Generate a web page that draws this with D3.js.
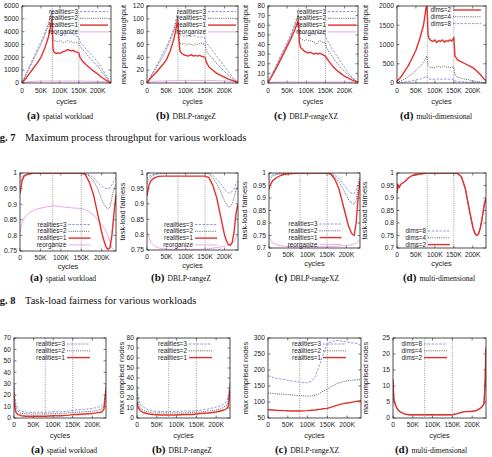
<!DOCTYPE html>
<html>
<head>
<meta charset="utf-8">
<script src="https://cdn.jsdelivr.net/npm/d3@7"></script>
<style>
  body { margin: 0; background: #fff; }
  svg { display: block; }
  .tick-label { font-family: "Liberation Sans", Arial, sans-serif; font-size: 6.7px; fill: #222; }
  .axis-title { font-family: "Liberation Sans", Arial, sans-serif; font-size: 7.4px; fill: #222; }
  .legend-text { font-family: "Liberation Sans", Arial, sans-serif; font-size: 6.3px; fill: #222; }
  .sub-letter { font-family: "Liberation Serif", "Times New Roman", serif; font-size: 11px; font-weight: bold; fill: #111; }
  .sub-text { font-family: "Liberation Serif", "Times New Roman", serif; font-size: 7.6px; fill: #111; }
  .fig-caption { font-family: "Liberation Serif", "Times New Roman", serif; font-size: 10.5px; fill: #111; }
</style>
</head>
<body>
<div id="chart"></div>
<script>
// ---- data (cycles in thousands) ----
const cyclesTp = [0, 10, 20, 30, 40, 50, 60, 70, 79, 82, 85, 90, 95, 100, 105, 110, 115, 120, 125, 130, 135, 140, 145, 150, 153, 160, 170, 180, 190, 200, 210, 220, 230, 236];

// Fig 7 (a) spatial workload
const tpSpatialR3 = [0, 650, 1300, 1950, 2600, 3200, 3900, 4700, 5650, 4000, 3900, 3800, 3700, 3850, 3900, 3750, 3700, 3900, 3800, 3900, 3850, 3700, 3650, 3600, 3200, 3000, 2600, 2300, 2000, 1600, 1200, 700, 250, 0];
const tpSpatialR2 = [0, 600, 1200, 1800, 2400, 3000, 3700, 4500, 5450, 3400, 3300, 3250, 3200, 3300, 3250, 3150, 3200, 3300, 3200, 3250, 3100, 3200, 3150, 3100, 2900, 2600, 2300, 1900, 1600, 1300, 900, 500, 150, 0];
const tpSpatialR1 = [0, 350, 750, 1150, 1550, 2000, 2700, 3600, 4950, 2600, 2400, 2300, 2350, 2300, 2400, 2450, 2500, 2600, 2550, 2500, 2550, 2450, 2400, 2350, 2000, 1700, 1400, 1150, 900, 700, 450, 250, 80, 0];
const tpSpatialReorg = [0, 60, 110, 130, 140, 150, 150, 160, 160, 150, 150, 150, 160, 150, 150, 150, 160, 150, 150, 150, 150, 150, 150, 150, 150, 150, 140, 140, 130, 120, 110, 90, 40, 0];

// Fig 7 (b) DBLP-rangeZ
const tpRangeZR3 = [0, 11, 22, 33, 45, 57, 70, 86, 110, 80, 75, 74, 73, 74, 73, 72, 73, 74, 73, 72, 71, 72, 71, 70, 62, 58, 50, 42, 34, 26, 18, 10, 4, 1];
const tpRangeZR2 = [0, 10, 20, 30, 40, 52, 66, 82, 104, 75, 62, 60, 62, 59, 60, 61, 60, 58, 61, 60, 61, 62, 61, 60, 50, 44, 38, 30, 24, 18, 12, 7, 3, 1];
const tpRangeZR1 = [0, 8, 14, 21, 28, 36, 50, 70, 97, 70, 50, 46, 44, 43, 42, 43, 44, 42, 43, 42, 43, 42, 41, 40, 33, 25, 20, 15, 12, 9, 6, 4, 2, 1];
const tpRangeZReorg = [0, 2, 3, 3, 3, 3.5, 3.5, 3.5, 4, 4, 4, 4, 4, 4, 4, 4, 4, 4, 4, 4, 4, 4, 4, 4, 4, 4, 4, 3.5, 3.5, 3, 3, 2.5, 2, 1];

// Fig 7 (c) DBLP-rangeXZ
const tpRangeXZR3 = [0, 8, 17, 26, 34, 42, 51, 61, 72, 54, 52, 52, 51, 52, 51, 52, 51, 50, 51, 52, 51, 52, 51, 50, 45, 41, 34, 28, 22, 16, 10, 6, 2, 1];
const tpRangeXZR2 = [0, 8, 16, 24, 32, 40, 49, 59, 70, 48, 46, 45, 44, 45, 44, 44, 43, 43, 40, 42, 44, 43, 42, 42, 36, 32, 26, 21, 16, 12, 8, 5, 2, 1];
const tpRangeXZR1 = [0, 7, 14, 22, 30, 38, 46, 55, 65, 42, 37, 35, 33, 32, 31, 32, 31, 30, 31, 30, 31, 30, 29, 28, 26, 22, 17, 13, 10, 7, 5, 3, 1.5, 1];
const tpRangeXZReorg = [0, 0.5, 1, 1, 1, 1, 1, 1, 1, 1, 1, 1, 1, 1, 1, 1, 1, 1, 1, 1, 1, 1, 1, 1, 1, 1, 1, 1, 1, 1, 1, 1, 0.5, 0.5];

// Fig 7 (d) multi-dimensional
const tpMultiD2 = [50, 150, 300, 450, 650, 850, 1150, 1500, 2100, 1250, 1150, 1100, 1080, 1120, 1050, 1100, 1080, 1120, 1060, 1100, 1080, 1120, 1090, 1180, 700, 600, 550, 500, 450, 400, 320, 220, 100, 50];
const tpMultiD4 = [10, 50, 100, 170, 240, 320, 420, 540, 700, 450, 420, 400, 410, 390, 420, 430, 410, 420, 440, 410, 420, 400, 410, 420, 200, 150, 120, 100, 80, 60, 40, 25, 10, 5];
const tpMultiD8 = [0, 10, 25, 40, 60, 80, 100, 130, 170, 110, 100, 100, 95, 100, 105, 100, 95, 100, 100, 105, 100, 95, 100, 100, 50, 40, 30, 25, 20, 15, 10, 6, 3, 2];

// Fig 8 task-load fairness
const cyclesFair = [0, 2, 5, 10, 20, 30, 40, 60, 80, 100, 120, 140, 150, 160, 170, 180, 190, 200, 205, 210, 215, 220, 225, 230, 235];

const fairSpatialR3 = [0.985, 0.988, 0.99, 0.993, 0.997, 0.999, 1, 1, 1, 1, 1, 1, 1, 0.999, 0.995, 0.985, 0.97, 0.958, 0.953, 0.95, 0.95, 0.952, 0.962, 0.975, 0.985];
const fairSpatialR2 = [0.97, 0.975, 0.985, 0.99, 0.995, 0.998, 1, 1, 1, 1, 1, 1, 1, 0.998, 0.99, 0.975, 0.95, 0.915, 0.9, 0.89, 0.885, 0.89, 0.92, 0.95, 0.965];
const fairSpatialR1 = [0.935, 0.95, 0.975, 0.99, 0.997, 0.999, 1, 1, 1, 1, 1, 1, 1, 0.995, 0.97, 0.93, 0.87, 0.81, 0.785, 0.765, 0.755, 0.76, 0.8, 0.87, 0.93];
const fairSpatialReorg = [0.81, 0.82, 0.84, 0.855, 0.87, 0.878, 0.884, 0.89, 0.895, 0.892, 0.889, 0.887, 0.886, 0.883, 0.875, 0.865, 0.85, 0.835, 0.825, 0.815, 0.8, 0.78, 0.76, 0.75, 0.745];

const fairRangeZR3 = [0.98, 0.985, 0.99, 0.993, 0.997, 0.999, 1, 1, 1, 1, 1, 1, 1, 0.999, 0.993, 0.98, 0.965, 0.948, 0.94, 0.935, 0.935, 0.94, 0.95, 0.965, 0.975];
const fairRangeZR2 = [0.965, 0.972, 0.98, 0.988, 0.994, 0.997, 0.999, 1, 1, 1, 1, 1, 1, 0.997, 0.985, 0.965, 0.94, 0.91, 0.898, 0.89, 0.89, 0.9, 0.92, 0.945, 0.96];
const fairRangeZR1 = [0.925, 0.94, 0.96, 0.975, 0.985, 0.989, 0.99, 0.99, 0.99, 0.99, 0.99, 0.99, 0.99, 0.985, 0.96, 0.92, 0.86, 0.8, 0.78, 0.768, 0.765, 0.775, 0.81, 0.87, 0.9];
const fairRangeZReorg = [0.81, 0.8, 0.79, 0.775, 0.762, 0.757, 0.754, 0.752, 0.752, 0.752, 0.752, 0.752, 0.753, 0.754, 0.756, 0.758, 0.76, 0.762, 0.764, 0.766, 0.768, 0.772, 0.778, 0.79, 0.8];

const fairRangeXZR3 = [0.98, 0.985, 0.99, 0.993, 0.997, 0.999, 1, 1, 1, 1, 1, 1, 1, 0.999, 0.993, 0.98, 0.96, 0.94, 0.93, 0.922, 0.918, 0.918, 0.93, 0.96, 0.99];
const fairRangeXZR2 = [0.965, 0.972, 0.98, 0.988, 0.994, 0.997, 0.999, 1, 1, 1, 1, 1, 1, 0.997, 0.985, 0.965, 0.94, 0.91, 0.895, 0.885, 0.878, 0.875, 0.89, 0.94, 0.98];
const fairRangeXZR1 = [0.935, 0.945, 0.958, 0.97, 0.982, 0.99, 0.995, 0.998, 1, 1, 1, 1, 1, 0.995, 0.975, 0.94, 0.88, 0.82, 0.79, 0.77, 0.755, 0.75, 0.8, 0.9, 0.97];
const fairRangeXZReorg = [0.745, 0.738, 0.73, 0.72, 0.713, 0.709, 0.707, 0.705, 0.705, 0.705, 0.705, 0.705, 0.705, 0.706, 0.707, 0.708, 0.709, 0.71, 0.711, 0.712, 0.714, 0.716, 0.72, 0.726, 0.733];

const fairMultiD8 = [0.92, 0.95, 0.94, 0.955, 0.965, 0.98, 0.99, 0.996, 1, 1, 1, 1, 1, 0.998, 0.985, 0.94, 0.86, 0.785, 0.76, 0.75, 0.755, 0.78, 0.82, 0.87, 0.9];
const fairMultiD4 = [0.92, 0.95, 0.94, 0.955, 0.965, 0.98, 0.99, 0.996, 1, 1, 1, 1, 1, 0.998, 0.985, 0.94, 0.86, 0.785, 0.76, 0.75, 0.755, 0.78, 0.82, 0.87, 0.9];
const fairMultiD2 = [0.92, 0.955, 0.94, 0.955, 0.965, 0.98, 0.99, 0.996, 1, 1, 1, 1, 1, 0.998, 0.985, 0.94, 0.86, 0.785, 0.76, 0.75, 0.755, 0.78, 0.82, 0.87, 0.9];

// Max comprised nodes
const cyclesNodes = [0, 2, 5, 10, 15, 20, 30, 40, 60, 80, 100, 120, 140, 150, 160, 180, 200, 210, 220, 225, 230, 233, 235];

const nodesSpatialR3 = [30, 18, 12, 8, 6.5, 6, 5, 5, 5, 5, 5.5, 5.5, 6, 6.5, 7, 7.5, 8.5, 9, 10, 11, 13, 22, 30];
const nodesSpatialR2 = [28, 14, 8, 6, 4.5, 4, 3.5, 3.5, 3.5, 3.5, 4, 4, 4.5, 5, 5, 5.5, 6, 6.5, 7.5, 8, 11, 20, 28];
const nodesSpatialR1 = [22, 9, 5, 3, 2.5, 2, 1.5, 1.5, 1.5, 1.5, 2, 2, 2.5, 3, 3, 3.5, 4, 4.5, 5, 5.5, 8, 18, 25];

const nodesRangeZR3 = [32, 24, 17, 13, 11, 10, 8, 7, 6.5, 6.5, 6.5, 7, 7, 7.5, 8, 9, 11, 12, 14, 16, 20, 30, 37];
const nodesRangeZR2 = [25, 18, 13, 10, 8, 7, 6, 5, 5, 5, 5, 5, 5.5, 6, 6, 7, 8, 9, 11, 12, 15, 25, 33];
const nodesRangeZR1 = [16, 12, 9, 7, 5.5, 5, 4, 3.5, 3, 3, 3, 3.5, 3.5, 4, 4.5, 5, 6, 7, 8, 9, 11, 20, 30];

const cyclesNodesXZ = [0, 10, 20, 40, 60, 80, 100, 110, 120, 130, 140, 150, 160, 170, 180, 190, 200, 210, 220, 230, 235];
const nodesRangeXZR3 = [182, 178, 174, 170, 166, 162, 160, 165, 180, 215, 250, 282, 288, 292, 292, 289, 287, 285, 284, 280, 276];
const nodesRangeXZR2 = [128, 127, 126, 124, 122, 120, 118, 119, 121, 127, 134, 140, 148, 155, 160, 164, 166, 168, 169, 170, 170];
const nodesRangeXZR1 = [76, 75, 74, 73, 72, 72, 73, 74, 75, 77, 79, 80, 84, 88, 92, 95, 97, 99, 101, 103, 104];

const nodesMultiD8 = [12, 6, 4.5, 3, 2.2, 1.8, 1.2, 1, 1, 1, 1, 1, 1, 1, 1.3, 2, 2, 2.3, 3, 3.5, 4.5, 12, 22];
const nodesMultiD4 = [12, 6, 4.5, 3, 2.2, 1.8, 1.2, 1, 1, 1, 1, 1, 1, 1, 1.3, 2, 2, 2.3, 3, 3.5, 4.5, 12, 22];
const nodesMultiD2 = [12, 6, 4.5, 3, 2.2, 1.8, 1.2, 1, 1, 1, 1, 1, 1, 1, 1.3, 2, 2.1, 2.3, 3, 3.5, 4.5, 12, 22];

const xTickValues = [0, 50, 100, 150, 200];
const markerCycles = [80, 150];

// ---- styles ----
const STYLE = {
  r3:    { stroke: '#7a7ad8', width: 0.8, dash: '2.4,1.4' },
  r2:    { stroke: '#333333', width: 0.8, dash: '1,1.2' },
  r1:    { stroke: '#e2302b', width: 1.4, dash: null },
  reorg: { stroke: '#e6a0e6', width: 0.9, dash: null }
};

const W = 492, H = 457;
const svg = d3.select('#chart').append('svg').attr('width', W).attr('height', H);

const fmtInt = d => String(d);
const fmtFair = d => d === 1 ? '1' : String(+d.toFixed(2));

const panels = [
  // ---- row 1: max process throughput ----
  { id: 'tpa', x0: 22, x1: 111, y0: 6, y1: 83, domain: [0, 6000], ticks: d3.range(0, 6001, 1000), fmt: fmtInt,
    cyc: cyclesTp, ylabel: null, letter: '(a)', caption: 'spatial workload', capX: 60, row: 1,
    legend: { right: 110, top: 11.5 },
    series: [
      { vals: tpSpatialReorg, style: 'reorg', label: 'reorganize', order: 3 },
      { vals: tpSpatialR3, style: 'r3', label: 'realities=3', order: 0 },
      { vals: tpSpatialR2, style: 'r2', label: 'realities=2', order: 1 },
      { vals: tpSpatialR1, style: 'r1', label: 'realities=1', order: 2 }
    ] },
  { id: 'tpb', x0: 147, x1: 238, y0: 6, y1: 83, domain: [0, 120], ticks: d3.range(0, 121, 20), fmt: fmtInt,
    cyc: cyclesTp, ylabel: 'max process throughput', ylabelX: 123, letter: '(b)', caption: 'DBLP-rangeZ', capX: 186, row: 1,
    legend: { right: 238, top: 11.5 },
    series: [
      { vals: tpRangeZReorg, style: 'reorg', label: 'reorganize', order: 3 },
      { vals: tpRangeZR3, style: 'r3', label: 'realities=3', order: 0 },
      { vals: tpRangeZR2, style: 'r2', label: 'realities=2', order: 1 },
      { vals: tpRangeZR1, style: 'r1', label: 'realities=1', order: 2 }
    ] },
  { id: 'tpc', x0: 268, x1: 358, y0: 6, y1: 83, domain: [0, 80], ticks: d3.range(0, 81, 10), fmt: fmtInt,
    cyc: cyclesTp, ylabel: 'max process throughput', ylabelX: 245, letter: '(c)', caption: 'DBLP-rangeXZ', capX: 306, row: 1,
    legend: { right: 358, top: 11.5 },
    series: [
      { vals: tpRangeXZReorg, style: 'reorg', label: 'reorganize', order: 3 },
      { vals: tpRangeXZR3, style: 'r3', label: 'realities=3', order: 0 },
      { vals: tpRangeXZR2, style: 'r2', label: 'realities=2', order: 1 },
      { vals: tpRangeXZR1, style: 'r1', label: 'realities=1', order: 2 }
    ] },
  { id: 'tpd', x0: 397, x1: 486, y0: 6, y1: 83, domain: [0, 2000], ticks: d3.range(0, 2001, 500), fmt: fmtInt,
    cyc: cyclesTp, ylabel: 'max process throughput', ylabelX: 365, letter: '(d)', caption: 'multi-dimensional', capX: 436, row: 1,
    legend: { right: 483, top: 10 },
    series: [
      { vals: tpMultiD8, style: 'r3', label: 'dims=8', order: 2 },
      { vals: tpMultiD4, style: 'r2', label: 'dims=4', order: 1 },
      { vals: tpMultiD2, style: 'r1', label: 'dims=2', order: 0 }
    ] },

  // ---- row 2: task-load fairness ----
  { id: 'fa', x0: 20, x1: 116, y0: 173, y1: 251, domain: [0.75, 1], ticks: d3.range(0.75, 1.001, 0.05), fmt: fmtFair,
    cyc: cyclesFair, ylabel: null, letter: '(a)', caption: 'spatial workload', capX: 63, row: 2,
    legend: { right: 92.5, top: 224.5 },
    series: [
      { vals: fairSpatialReorg, style: 'reorg', label: 'reorganize', order: 3 },
      { vals: fairSpatialR3, style: 'r3', label: 'realities=3', order: 0 },
      { vals: fairSpatialR2, style: 'r2', label: 'realities=2', order: 1 },
      { vals: fairSpatialR1, style: 'r1', label: 'realities=1', order: 2 }
    ] },
  { id: 'fb', x0: 147, x1: 238, y0: 173, y1: 250, domain: [0.75, 1], ticks: d3.range(0.75, 1.001, 0.05), fmt: fmtFair,
    cyc: cyclesFair, ylabel: 'task-load fairness', ylabelX: 122, letter: '(b)', caption: 'DBLP-rangeZ', capX: 181, row: 2,
    legend: { right: 219, top: 224.5 },
    series: [
      { vals: fairRangeZReorg, style: 'reorg', label: 'reorganize', order: 3 },
      { vals: fairRangeZR3, style: 'r3', label: 'realities=3', order: 0 },
      { vals: fairRangeZR2, style: 'r2', label: 'realities=2', order: 1 },
      { vals: fairRangeZR1, style: 'r1', label: 'realities=1', order: 2 }
    ] },
  { id: 'fc', x0: 269, x1: 360, y0: 173, y1: 248, domain: [0.7, 1], ticks: d3.range(0.7, 1.001, 0.05), fmt: fmtFair,
    cyc: cyclesFair, ylabel: 'task-load fairness', ylabelX: 244, letter: '(c)', caption: 'DBLP-rangeXZ', capX: 307, row: 2,
    legend: { right: 343.5, top: 224 },
    series: [
      { vals: fairRangeXZReorg, style: 'reorg', label: 'reorganize', order: 3 },
      { vals: fairRangeXZR3, style: 'r3', label: 'realities=3', order: 0 },
      { vals: fairRangeXZR2, style: 'r2', label: 'realities=2', order: 1 },
      { vals: fairRangeXZR1, style: 'r1', label: 'realities=1', order: 2 }
    ] },
  { id: 'fd', x0: 397, x1: 486, y0: 173, y1: 248, domain: [0.7, 1], ticks: d3.range(0.7, 1.001, 0.05), fmt: fmtFair,
    cyc: cyclesFair, ylabel: 'task-load fairness', ylabelX: 364, letter: '(d)', caption: 'multi-dimensional', capX: 439, row: 2,
    legend: { right: 452, top: 231 },
    series: [
      { vals: fairMultiD8, style: 'r3', label: 'dims=8', order: 0 },
      { vals: fairMultiD4, style: 'r2', label: 'dims=4', order: 1 },
      { vals: fairMultiD2, style: 'r1', label: 'dims=2', order: 2 }
    ] },

  // ---- row 3: max comprised nodes ----
  { id: 'na', x0: 14, x1: 106, y0: 338, y1: 418, domain: [0, 70], ticks: d3.range(0, 71, 10), fmt: fmtInt,
    cyc: cyclesNodes, ylabel: null, letter: '(a)', caption: 'spatial workload', capX: 64, row: 3,
    legend: { right: 92, top: 344 },
    series: [
      { vals: nodesSpatialR3, style: 'r3', label: 'realities=3', order: 0 },
      { vals: nodesSpatialR2, style: 'r2', label: 'realities=2', order: 1 },
      { vals: nodesSpatialR1, style: 'r1', label: 'realities=1', order: 2 }
    ] },
  { id: 'nb', x0: 137, x1: 230, y0: 338, y1: 418, domain: [0, 80], ticks: d3.range(0, 81, 10), fmt: fmtInt,
    cyc: cyclesNodes, ylabel: 'max comprised nodes', ylabelX: 121, letter: '(b)', caption: 'DBLP-rangeZ', capX: 182, row: 3,
    legend: { right: 214, top: 344 },
    series: [
      { vals: nodesRangeZR3, style: 'r3', label: 'realities=3', order: 0 },
      { vals: nodesRangeZR2, style: 'r2', label: 'realities=2', order: 1 },
      { vals: nodesRangeZR1, style: 'r1', label: 'realities=1', order: 2 }
    ] },
  { id: 'nc', x0: 268, x1: 361, y0: 338, y1: 418, domain: [50, 300], ticks: d3.range(50, 301, 50), fmt: fmtInt,
    cyc: cyclesNodesXZ, ylabel: 'max comprised nodes', ylabelX: 245, letter: '(c)', caption: 'DBLP-rangeXZ', capX: 307, row: 3,
    legend: { right: 348, top: 344 },
    series: [
      { vals: nodesRangeXZR3, style: 'r3', label: 'realities=3', order: 0 },
      { vals: nodesRangeXZR2, style: 'r2', label: 'realities=2', order: 1 },
      { vals: nodesRangeXZR1, style: 'r1', label: 'realities=1', order: 2 }
    ] },
  { id: 'nd', x0: 393, x1: 486, y0: 338, y1: 418, domain: [0, 25], ticks: d3.range(0, 26, 5), fmt: fmtInt,
    cyc: cyclesNodes, ylabel: 'max comprised nodes', ylabelX: 365, letter: '(d)', caption: 'multi-dimensional', capX: 431, row: 3,
    legend: { right: 449, top: 344 },
    series: [
      { vals: nodesMultiD8, style: 'r3', label: 'dims=8', order: 0 },
      { vals: nodesMultiD4, style: 'r2', label: 'dims=4', order: 1 },
      { vals: nodesMultiD2, style: 'r1', label: 'dims=2', order: 2 }
    ] }
];

// row-level offsets below the plot frame, and legend sample length
const ROW = {
  1: { tickDy: 9.5, titleDy: 20.5, capY: 119, sample: 28 },
  2: { tickDy: 8.5, titleDy: 17.5, capY: 281, sample: 22 },
  3: { tickDy: 8.5, titleDy: 19.5, capY: 453, sample: 23 }
};
const LEGEND_STEP = 6.8;

panels.forEach(drawPanel);

function drawPanel(p) {
  const x = d3.scaleLinear().domain([0, 235]).range([p.x0, p.x1]);
  const y = d3.scaleLinear().domain(p.domain).range([p.y1, p.y0]);
  const row = ROW[p.row];
  const g = svg.append('g').attr('class', 'panel ' + p.id);

  g.append('clipPath').attr('id', 'clip-' + p.id)
    .append('rect').attr('x', p.x0).attr('y', p.y0)
    .attr('width', p.x1 - p.x0).attr('height', p.y1 - p.y0);

  // vertical marker lines
  g.selectAll('.marker').data(markerCycles).join('line')
    .attr('x1', d => x(d)).attr('x2', d => x(d))
    .attr('y1', p.y0).attr('y2', p.y1)
    .attr('stroke', '#555').attr('stroke-width', 0.6).attr('stroke-dasharray', '1,1.3');

  // y ticks (mirrored, inward)
  p.ticks.forEach(t => {
    const yy = y(t);
    g.append('line').attr('x1', p.x0).attr('x2', p.x0 + 2.5).attr('y1', yy).attr('y2', yy)
      .attr('stroke', '#222').attr('stroke-width', 0.6);
    g.append('line').attr('x1', p.x1).attr('x2', p.x1 - 2.5).attr('y1', yy).attr('y2', yy)
      .attr('stroke', '#222').attr('stroke-width', 0.6);
    g.append('text').attr('class', 'tick-label')
      .attr('x', p.x0 - 3).attr('y', yy + 2.3).attr('text-anchor', 'end')
      .text(p.fmt(t));
  });

  // x ticks
  xTickValues.forEach(t => {
    const xx = x(t);
    g.append('line').attr('x1', xx).attr('x2', xx).attr('y1', p.y1).attr('y2', p.y1 - 2.5)
      .attr('stroke', '#222').attr('stroke-width', 0.6);
    g.append('line').attr('x1', xx).attr('x2', xx).attr('y1', p.y0).attr('y2', p.y0 + 2.5)
      .attr('stroke', '#222').attr('stroke-width', 0.6);
    g.append('text').attr('class', 'tick-label')
      .attr('x', xx).attr('y', p.y1 + row.tickDy).attr('text-anchor', 'middle')
      .text(t === 0 ? '0' : t + 'K');
  });

  // series
  const line = d3.line().x(d => x(d[0])).y(d => y(d[1]));
  const plot = g.append('g').attr('clip-path', `url(#clip-${p.id})`);
  p.series.forEach(s => {
    const st = STYLE[s.style];
    plot.append('path')
      .datum(p.cyc.map((c, i) => [c, s.vals[i]]))
      .attr('d', line)
      .attr('fill', 'none')
      .attr('stroke', st.stroke)
      .attr('stroke-width', st.width)
      .attr('stroke-dasharray', st.dash)
      .attr('stroke-linejoin', 'round');
  });

  // frame
  g.append('rect').attr('x', p.x0).attr('y', p.y0)
    .attr('width', p.x1 - p.x0).attr('height', p.y1 - p.y0)
    .attr('fill', 'none').attr('stroke', '#222').attr('stroke-width', 0.8);

  // legend
  const lg = g.append('g');
  p.series.forEach(s => {
    const st = STYLE[s.style];
    const ly = p.legend.top + s.order * LEGEND_STEP;
    const sx1 = p.legend.right - 2, sx0 = sx1 - row.sample;
    lg.append('text').attr('class', 'legend-text')
      .attr('x', sx0 - 2).attr('y', ly + 2.1).attr('text-anchor', 'end')
      .text(s.label);
    lg.append('line').attr('x1', sx0).attr('x2', sx1).attr('y1', ly).attr('y2', ly)
      .attr('stroke', st.stroke).attr('stroke-width', st.width)
      .attr('stroke-dasharray', st.dash);
  });

  // axis titles
  g.append('text').attr('class', 'axis-title')
    .attr('x', (p.x0 + p.x1) / 2).attr('y', p.y1 + row.titleDy)
    .attr('text-anchor', 'middle').text('cycles');
  if (p.ylabel) {
    g.append('text').attr('class', 'axis-title')
      .attr('transform', `translate(${p.ylabelX + 2.5},${(p.y0 + p.y1) / 2}) rotate(-90)`)
      .attr('text-anchor', 'middle').text(p.ylabel);
  }

  // sub-caption
  const cap = g.append('text').attr('x', p.capX).attr('y', row.capY).attr('text-anchor', 'middle');
  cap.append('tspan').attr('class', 'sub-letter').text(p.letter);
  cap.append('tspan').attr('class', 'sub-text').attr('dx', 3).text(p.caption);
}

// figure captions (the page crop cuts off the start of "Fig.")
function figCaption(yy, num, text) {
  const t = svg.append('text').attr('class', 'fig-caption').attr('y', yy);
  t.append('tspan').attr('x', -9.5).attr('font-weight', 'bold').text('Fig. ' + num);
  t.append('tspan').attr('x', 25).text(text);
}
figCaption(140.5, 7, 'Maximum process throughput for various workloads');
figCaption(303.5, 8, 'Task-load fairness for various workloads');
</script>
</body>
</html>
